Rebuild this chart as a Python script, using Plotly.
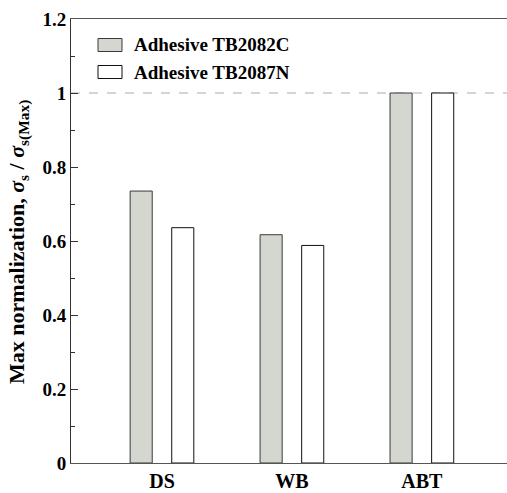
import plotly.graph_objects as go

categories = ["DS", "WB", "ABT"]
tb2082c = [0.735, 0.617, 1.0]
tb2087n = [0.636, 0.588, 1.0]
series_names = ["Adhesive TB2082C", "Adhesive TB2087N"]

FONT = "Liberation Serif, Times New Roman, serif"
W, H = 507, 493
ML, MR, MT, MB = 71, 0, 19, 30
pw = W - ML - MR
ph = H - MT - MB

def px_x(x):
    return (x - ML) / pw

def px_y(y):
    return (H - MB - y) / ph

fig = go.Figure()
fig.add_trace(go.Bar(
    x=[0, 1, 2], y=tb2082c, name=series_names[0],
    width=0.17, offset=-0.245,
    marker=dict(color="#d4d6d0", line=dict(color="#3a3a3a", width=1)),
    showlegend=False,
))
fig.add_trace(go.Bar(
    x=[0, 1, 2], y=tb2087n, name=series_names[1],
    width=0.17, offset=0.075,
    marker=dict(color="#ffffff", line=dict(color="#111111", width=1)),
    showlegend=False,
))

# reference dashed line at 1
fig.add_shape(type="line", xref="paper", yref="y", x0=0, x1=1, y0=1, y1=1,
              line=dict(color="#aaaaaa", width=1, dash="dash"), layer="below")

# custom legend
legend_rows = [(45, "#d4d6d0", "#3a3a3a"), (72, "#ffffff", "#111111")]
for (yc, fill, edge), name in zip(legend_rows, series_names):
    fig.add_shape(type="rect", xref="paper", yref="paper",
                  x0=px_x(98), x1=px_x(122), y0=px_y(yc - 6.5), y1=px_y(yc + 6.5),
                  fillcolor=fill, line=dict(color=edge, width=1))
    fig.add_annotation(xref="paper", yref="paper", x=px_x(132), y=px_y(yc),
                       xanchor="left", yanchor="middle", showarrow=False,
                       text=f"<b>{name}</b>", font=dict(family=FONT, size=19, color="black"))

# y-axis title
fig.add_annotation(xref="paper", yref="paper", x=px_x(18), y=px_y(242),
                   xanchor="center", yanchor="middle", showarrow=False, textangle=-90,
                   text="<b>Max normalization, <i>σ</i><sub>s</sub> / <i>σ</i><sub>s(Max)</sub></b>",
                   font=dict(family=FONT, size=22, color="black"))

fig.update_layout(
    width=W, height=H,
    margin=dict(l=ML, r=MR, t=MT, b=MB),
    plot_bgcolor="white", paper_bgcolor="white",
    barmode="overlay",
    font=dict(family=FONT, color="black"),
    xaxis=dict(
        range=[-0.7, 2.655],
        tickmode="array", tickvals=[0, 1, 2], ticktext=[f"<b>{c}</b>" for c in categories],
        ticks="", showgrid=False, zeroline=False,
        showline=True, linecolor="#555555", linewidth=1, mirror=True,
        tickfont=dict(family=FONT, size=20, color="black"),
    ),
    yaxis=dict(
        range=[0, 1.2], dtick=0.2, tick0=0,
        ticks="inside", ticklen=7, tickcolor="#333333", tickwidth=1,
        minor=dict(dtick=0.1, ticks="inside", ticklen=4, tickcolor="#333333", showgrid=False),
        showgrid=False, zeroline=False,
        showline=True, linecolor="#333333", linewidth=1,
        tickfont=dict(family=FONT, size=19, color="black"),
        tickformat="~g",
        tickprefix="<b>", ticksuffix="</b>",
    ),
)

fig.write_html("out.html", config={"displayModeBar": False},
               post_script="document.body.style.margin='0';document.body.style.padding='0';")
